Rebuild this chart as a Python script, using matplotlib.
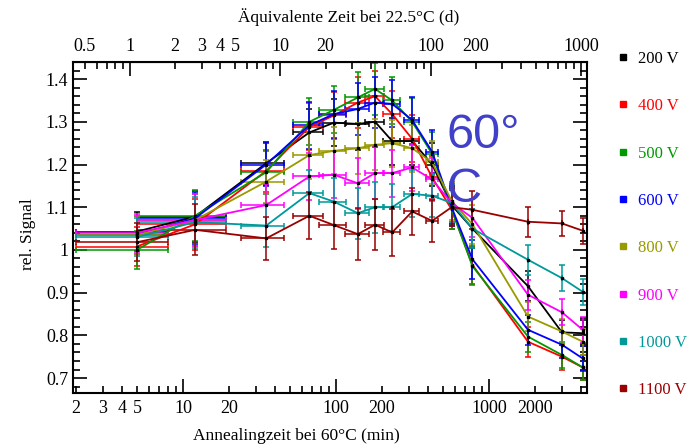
import numpy as np
import matplotlib
matplotlib.use("Agg")
import matplotlib.pyplot as plt
from matplotlib.lines import Line2D
from matplotlib.ticker import FixedLocator, LogLocator, FuncFormatter, MultipleLocator

plt.rcParams['font.family'] = ['Liberation Serif', 'DejaVu Serif']

# annealing time at 60 C (min) and shared error estimates
t_min = [5, 12, 35, 67, 97, 139, 180, 233, 315, 425, 570, 780, 1800, 3000, 4100]
t_err = [3, 7, 11, 15, 20, 25, 25, 30, 35, 40, 0, 0, 0, 0, 0]
sig_err = [0.045, 0.06, 0.05, 0.055, 0.055, 0.06, 0.06, 0.055, 0.055, 0.05,
           0.045, 0.045, 0.035, 0.03, 0.03]

labels = ['200 V', '400 V', '500 V', '600 V', '800 V', '900 V', '1000 V', '1100 V']
colors = ['#000000', '#ff0000', '#009900', '#0000ff', '#999900', '#ff00ff', '#009999', '#990000']

sig_200 = [1.043, 1.078, 1.203, 1.275, 1.298, 1.295, 1.300, 1.255, 1.255, 1.200, 1.105, 1.050, 0.915, 0.807, 0.805]
sig_400 = [1.008, 1.060, 1.185, 1.288, 1.315, 1.345, 1.360, 1.318, 1.260, 1.170, 1.095, 0.965, 0.785, 0.750, 0.725]
sig_500 = [1.000, 1.080, 1.182, 1.300, 1.328, 1.357, 1.377, 1.350, 1.300, 1.225, 1.095, 0.962, 0.797, 0.754, 0.725]
sig_600 = [1.035, 1.074, 1.200, 1.292, 1.318, 1.330, 1.345, 1.342, 1.304, 1.230, 1.100, 0.978, 0.813, 0.778, 0.746]
sig_800 = [1.035, 1.070, 1.160, 1.222, 1.232, 1.238, 1.246, 1.250, 1.238, 1.205, 1.115, 1.060, 0.844, 0.809, 0.785]
sig_900 = [1.040, 1.070, 1.105, 1.172, 1.176, 1.156, 1.180, 1.180, 1.193, 1.165, 1.110, 1.075, 0.895, 0.854, 0.813]
sig_1000 = [1.030, 1.065, 1.057, 1.133, 1.113, 1.086, 1.100, 1.100, 1.131, 1.127, 1.110, 1.050, 0.977, 0.934, 0.902]
sig_1100 = [1.018, 1.047, 1.027, 1.080, 1.058, 1.037, 1.059, 1.041, 1.090, 1.068, 1.100, 1.094, 1.066, 1.062, 1.045]
series = [sig_200, sig_400, sig_500, sig_600, sig_800, sig_900, sig_1000, sig_1100]

bottom_labelled = [2, 3, 4, 5, 20, 200, 2000]
top_major = [1, 10, 100, 1000]
top_labelled = [0.5, 2, 3, 4, 5, 20, 200]


# 60 C minutes -> equivalent days at 22.5 C
def to_days(t):
    return (np.maximum(t, 1e-9) / 4.5) ** 1.0174


def to_min(d):
    return 4.5 * np.maximum(d, 1e-9) ** (1 / 1.0174)


def minor_fmt(keep):
    def fmt(v, pos):
        for k in keep:
            if abs(v - k) / k < 1e-3:
                return f"{k:g}"
        return ""
    return FuncFormatter(fmt)


fig = plt.figure(figsize=(6.99, 4.48), dpi=100)
ax = fig.add_axes([73 / 699, 1 - 393 / 448, 514 / 699, 331 / 448])

for vals, col in zip(series, colors):
    ax.errorbar(t_min, vals, yerr=sig_err, xerr=t_err, color=col, lw=1.3,
                elinewidth=1.1, capsize=2.2, capthick=1.1,
                marker='s', ms=1.6, mfc='black', mec='black')

ax.set_xscale('log')
ax.set_xlim(1.91, 4375)
ax.set_ylim(0.665, 1.44)

ax.xaxis.set_major_locator(FixedLocator([10, 100, 1000]))
ax.xaxis.set_major_formatter(FuncFormatter(lambda v, p: f"{v:g}"))
ax.xaxis.set_minor_locator(LogLocator(base=10, subs=np.arange(2, 10)))
ax.xaxis.set_minor_formatter(minor_fmt(bottom_labelled))
ax.yaxis.set_major_locator(MultipleLocator(0.1))
ax.yaxis.set_major_formatter(FuncFormatter(lambda v, p: f"{v:g}"))
ax.yaxis.set_minor_locator(MultipleLocator(0.02))

ax.tick_params(which='both', direction='in', top=False, right=True, width=1.2,
               labelsize=13)
ax.tick_params(which='major', length=10)
ax.tick_params(which='minor', length=5)
ax.tick_params(axis='x', which='both', pad=5)
for s in ax.spines.values():
    s.set_linewidth(1.5)

sec = ax.secondary_xaxis('top', functions=(to_days, to_min))
sec.xaxis.set_major_locator(FixedLocator(top_major))
sec.xaxis.set_major_formatter(FuncFormatter(lambda v, p: f"{v:g}"))
sec.xaxis.set_minor_locator(LogLocator(base=10, subs=np.arange(2, 10)))
sec.xaxis.set_minor_formatter(minor_fmt(top_labelled))
sec.tick_params(which='both', direction='in', width=1.2, labelsize=13, pad=5)
sec.tick_params(which='major', length=10)
sec.tick_params(which='minor', length=5)

ax.set_xlabel('Annealingzeit bei 60°C (min)', fontsize=12.5)
ax.xaxis.set_label_coords(0.434, -0.105)
ax.set_ylabel('rel. Signal', fontsize=12.5)
ax.yaxis.set_label_coords(-0.072, 0.48)
fig.text(349 / 699, 1 - 17 / 448, 'Äquivalente Zeit bei 22.5°C (d)', fontsize=12.5,
         ha='center', va='center')

ax.text(0.726, 0.845, '60°\nC', transform=ax.transAxes, va='top', ha='left',
        fontsize=35, family='Liberation Sans', color='#4040c8', linespacing=1.25)

handles = [Line2D([], [], ls='none', marker='s', ms=4, color=c) for c in colors]
ax.legend(handles, labels, loc='upper left', bbox_to_anchor=(616 / 699, 1 - 51 / 448),
          bbox_transform=fig.transFigure, frameon=False, fontsize=12,
          labelcolor=colors, handlelength=0.8, handletextpad=0.5,
          labelspacing=1.88, borderpad=0, borderaxespad=0)

fig.savefig('out.png', dpi=100)
